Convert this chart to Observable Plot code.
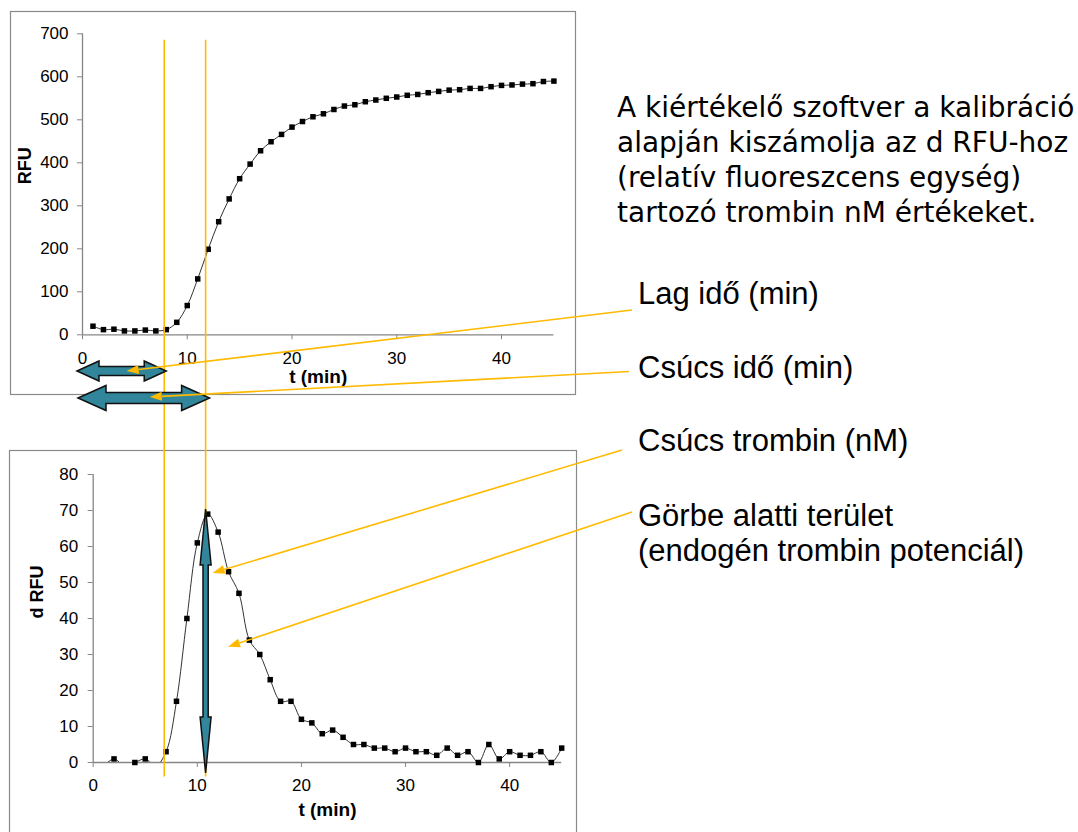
<!DOCTYPE html>
<html>
<head>
<meta charset="utf-8">
<script src="https://cdn.jsdelivr.net/npm/d3@7"></script>
<script src="https://cdn.jsdelivr.net/npm/@observablehq/plot@0.6"></script>
<style>
  body { margin: 0; background: #fff; }
  #wrap { position: relative; width: 1078px; height: 832px; overflow: hidden; }
  #under, #over { position: absolute; left: 0; top: 0; }
  #over { pointer-events: none; }
  #topChart { position: absolute; left: 0; top: 0; }
  #botChart { position: absolute; left: 0; top: 440px; }
  #topChart svg, #botChart svg { overflow: visible; }
  g[aria-label^="x-axis"] line, g[aria-label^="y-axis"] line,
  g[aria-label="x-axis tick"] path, g[aria-label="y-axis tick"] path { stroke: #868686; }
  g[aria-label="x-axis tick label"], g[aria-label="y-axis tick label"] { font-size: 17px; }
</style>
</head>
<body>
<div id="wrap">
  <svg id="under" width="1078" height="832"></svg>
  <div id="topChart"></div>
  <div id="botChart"></div>
  <svg id="over" width="1078" height="832"></svg>
</div>
<script>
// ---------- DATA ----------
const topTime = [1,2,3,4,5,6,7,8,9,10,11,12,13,14,15,16,17,18,19,20,21,22,23,24,25,26,27,28,29,30,31,32,33,34,35,36,37,38,39,40,41,42,43,44,45];
const topRFU  = [20,12,13,9,9,11,9,12,29,68,130,199,263,316,363,397,428,449,466,483,496,507,514,524,532,535,542,546,550,553,557,559,563,566,569,570,573,573,577,580,581,583,584,589,590];

const botTime = [1,2,3,4,5,6,7,8,9,10,11,12,13,14,15,16,17,18,19,20,21,22,23,24,25,26,27,28,29,30,31,32,33,34,35,36,37,38,39,40,41,42,43,44,45];
const botDRFU = [-1,1,-1,0,1,-1,3,17,40,61,69,64,53,47,34,30,23,17,17,12,11,8,9,7,5,5,4,4,3,4,3,3,2,4,2,3,0,5,1,3,2,2,3,0,4];

const xTicks = [0,10,20,30,40];
const topYTicks = [0,100,200,300,400,500,600,700];
const botYTicks = [0,10,20,30,40,50,60,70,80];

const topLabelY = "RFU", botLabelY = "d RFU", labelX = "t (min)";

// annotation values (top chart time units, bottom chart values)
const lagTime = 7.85, peakTime = 11.8, peakHeight = 70;
const peakArrowValue = 52.5;          // where "Csúcs trombin" points (d RFU)
const areaPoint = {t: 13, v: 32};     // where "Görbe alatti terület" points

const paragraph = ["A kiértékelő szoftver a kalibráció", "alapján kiszámolja az d RFU-hoz", "(relatív fluoreszcens egység)", "tartozó trombin nM értékeket."];
const labels = ["Lag idő (min)", "Csúcs idő (min)", "Csúcs trombin (nM)", "Görbe alatti terület", "(endogén trombin potenciál)"];

const topData = topTime.map((t, i) => ({t, v: topRFU[i]}));
const botData = botTime.map((t, i) => ({t, v: botDRFU[i]}));

const ORANGE = "#FFBA00", TEAL = "#31869B", AXIS = "#868686";
const FONT = "'Liberation Sans', Arial, sans-serif";

function chart(data, cfg) {
  return Plot.plot({
    width: 580, height: cfg.height,
    marginLeft: cfg.ml, marginRight: cfg.mr, marginTop: cfg.mt, marginBottom: cfg.mb,
    style: {fontFamily: FONT, fontSize: "17px", background: "transparent", color: "#000"},
    x: {domain: [0, 45], ticks: xTicks, tickSize: 5, tickPadding: cfg.xpad, label: null},
    y: {domain: cfg.ydomain, ticks: cfg.yticks, tickSize: 5, tickPadding: cfg.ypad, label: null},
    marks: [
      Plot.ruleY([0], {stroke: AXIS, strokeWidth: 1.3}),
      Plot.ruleX([0], {stroke: AXIS, strokeWidth: 1.3}),
      Plot.line(data, {x: "t", y: "v", curve: "catmull-rom", stroke: "#333", strokeWidth: 1, clip: true}),
      Plot.dot(data.filter(d => d.v >= 0), {x: "t", y: "v", symbol: "square", r: 3.1, fill: "#000", stroke: "none"}),
      Plot.text([cfg.ylabel], {text: d => d, frameAnchor: "left", dx: cfg.ylabDx, rotate: -90, fontWeight: "bold", fontSize: 18, fill: "#000"}),
      Plot.text([labelX], {text: d => d, frameAnchor: "bottom", dy: cfg.xlabDy, fontWeight: "bold", fontSize: 19, fill: "#000"})
    ]
  });
}

const topPlot = chart(topData, {height: 400, ml: 82, mr: 26.6, mt: 33.3, mb: 65.7, xpad: 12, ypad: 9,
  ydomain: [0, 700], yticks: topYTicks, ylabel: topLabelY, ylabDx: -57, xlabDy: 48});
const botPlot = chart(botData, {height: 392, ml: 92.7, mr: 18.8, mt: 34, mb: 70, xpad: 11, ypad: 10,
  ydomain: [0, 80], yticks: botYTicks, ylabel: botLabelY, ylabDx: -56, xlabDy: 53});

document.getElementById("topChart").appendChild(topPlot);
document.getElementById("botChart").appendChild(botPlot);

const BOT_OFF = 440;
const xT = v => topPlot.scale("x").apply(v);
const yT = v => topPlot.scale("y").apply(v);
const xB = v => botPlot.scale("x").apply(v);
const yB = v => botPlot.scale("y").apply(v) + BOT_OFF;

// ---------- frames (behind) ----------
const under = d3.select("#under");
under.append("rect").attr("x", 10.5).attr("y", 11.5).attr("width", 565).attr("height", 383)
  .attr("fill", "none").attr("stroke", "#8a8a8a").attr("stroke-width", 1.2);
under.append("rect").attr("x", 9.5).attr("y", 450.5).attr("width", 567).attr("height", 500)
  .attr("fill", "none").attr("stroke", "#8a8a8a").attr("stroke-width", 1.2);

// ---------- overlay ----------
const over = d3.select("#over");

function hArrow(x1, x2, c, h, H, s) {
  const pts = [[x1, c], [x1 + h, c - H], [x1 + h, c - s], [x2 - h, c - s], [x2 - h, c - H], [x2, c],
               [x2 - h, c + H], [x2 - h, c + s], [x1 + h, c + s], [x1 + h, c + H]];
  over.append("polygon").attr("points", pts.map(p => p.join(",")).join(" "))
    .attr("fill", TEAL).attr("stroke", "#111").attr("stroke-width", 1.5).attr("stroke-linejoin", "miter");
}
function vArrow(y1, y2, c, h, H, s) {
  const pts = [[c, y1], [c + H, y1 + h], [c + s, y1 + h], [c + s, y2 - h], [c + H, y2 - h], [c, y2],
               [c - H, y2 - h], [c - s, y2 - h], [c - s, y1 + h], [c - H, y1 + h]];
  over.append("polygon").attr("points", pts.map(p => p.join(",")).join(" "))
    .attr("fill", TEAL).attr("stroke", "#111").attr("stroke-width", 1.5);
}
function orangePointer(x1, y1, x2, y2) {
  const dx = x2 - x1, dy = y2 - y1, len = Math.hypot(dx, dy);
  const ux = dx / len, uy = dy / len, L = 12, w = 4.5;
  const bx = x2 - ux * L, by = y2 - uy * L;
  over.append("line").attr("x1", x1).attr("y1", y1).attr("x2", bx).attr("y2", by)
    .attr("stroke", ORANGE).attr("stroke-width", 1.6);
  over.append("polygon").attr("points", [[x2, y2], [bx - uy * w, by + ux * w], [bx + uy * w, by - ux * w]].map(p => p.join(",")).join(" "))
    .attr("fill", ORANGE);
}

// vertical orange guide lines
const lagX = xT(lagTime), peakX = xT(peakTime);
const guideTop = yT(685), guideBottom = yB(-4);
[lagX, peakX].forEach(x => over.append("line").attr("x1", x).attr("x2", x).attr("y1", guideTop).attr("y2", guideBottom)
  .attr("stroke", ORANGE).attr("stroke-width", 1.6));

// teal double arrows (top: lag and peak times)
const arr1 = {x1: xT(0) - 5, x2: lagX + 2, c: 371};
const arr2 = {x1: xT(0) - 4, x2: peakX + 4, c: 398};
hArrow(arr1.x1, arr1.x2, arr1.c, 22, 10, 4.5);
hArrow(arr2.x1, arr2.x2, arr2.c, 28, 12.5, 5.5);
// vertical double arrow (peak height)
vArrow(yB(peakHeight) - 1, yB(0) + 11, peakX, 56, 5.5, 2.6);

// pointers from labels
orangePointer(632, 310, (arr1.x1 + arr1.x2) / 2 + 5, arr1.c);
orangePointer(629, 371.5, (arr2.x1 + arr2.x2) / 2 + 6, arr2.c - 1);
orangePointer(622, 450, peakX + 7, yB(peakArrowValue));
orangePointer(632, 512, xB(areaPoint.t), yB(areaPoint.v));

// paragraph text
const para = over.append("text").attr("font-family", "'DejaVu Sans', Verdana, sans-serif").attr("font-size", 28).attr("fill", "#000");
paragraph.forEach((line, i) => para.append("tspan").attr("x", 617).attr("y", 117 + i * 35).text(line));

// labels
const labY = [304, 378, 451, 526, 561];
labels.forEach((l, i) => over.append("text").attr("x", 638).attr("y", labY[i])
  .attr("font-family", FONT).attr("font-size", 31).attr("fill", "#000").text(l));
</script>
</body>
</html>
